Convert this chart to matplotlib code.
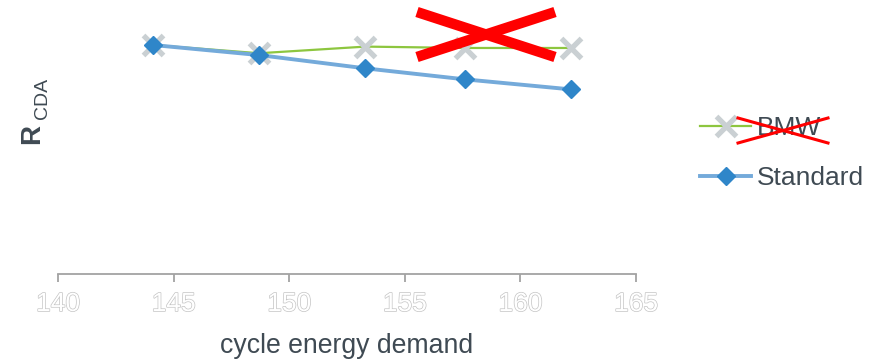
import matplotlib
matplotlib.use("Agg")
import matplotlib.pyplot as plt
import matplotlib.patheffects as pe
from matplotlib.lines import Line2D

plt.rcParams['font.family'] = ['Liberation Sans', 'DejaVu Sans']

# cycle energy demand for each measured configuration
energy = [144.1, 148.7, 153.3, 157.6, 162.2]
bmw_r = [1.000, 0.964, 0.993, 0.987, 0.987]
standard_r = [1.000, 0.956, 0.898, 0.850, 0.806]
xticks = [140, 145, 150, 155, 160, 165]
series_names = ["BMW", "Standard"]

text_color = "#3F4A53"
axis_color = "#A3A3A3"

fig = plt.figure(figsize=(8.84, 3.64), dpi=100)
ax = fig.add_axes([58 / 884, 1 - 274 / 364, (636 - 58) / 884, (274 - 9.5) / 364])

ax.plot(energy, bmw_r, color="#8DC63F", lw=1.6, marker="x", markersize=15,
        markeredgewidth=3.8, markeredgecolor="#CAD0D3", label=series_names[0], zorder=3)
ax.plot(energy, standard_r, color="#74AADA", lw=2.8, marker="D", markersize=9.5,
        markerfacecolor="#2F86C9", markeredgecolor="#2F86C9", label=series_names[1], zorder=4)

ax.set_xlim(140, 165)
ax.set_ylim(0, 1.155)
ax.set_xticks(xticks)
ax.set_yticks([])
for side in ("top", "right", "left"):
    ax.spines[side].set_visible(False)
ax.spines["bottom"].set_color(axis_color)
ax.spines["bottom"].set_linewidth(1.3)
ax.tick_params(axis="x", direction="out", length=6, width=1.3, color=axis_color,
               pad=7, labelsize=19, labelcolor="white")
for lbl in ax.get_xticklabels():
    lbl.set_path_effects([pe.Stroke(linewidth=1.0, foreground="#C4C4C4"), pe.Normal()])

ax.set_xlabel("cycle energy demand", fontsize=19.2, color=text_color, labelpad=12)

# rotated axis title with subscript
fig.text(32 / 884, 1 - 134 / 364, "R", rotation=90, ha="center", va="center",
         fontsize=20, fontweight="bold", color=text_color)
fig.text(42 / 884, 1 - 98 / 364, "CDA", rotation=90, ha="center", va="center",
         fontsize=14, color=text_color)

leg = ax.legend(loc="center left", bbox_to_anchor=(700 / 884, 1 - 153 / 364),
                bbox_transform=fig.transFigure, frameon=False, fontsize=19,
                handlelength=1.95, handletextpad=0.2, labelspacing=0.98,
                borderpad=0, borderaxespad=0)
for t in leg.get_texts():
    t.set_color(text_color)

# strike-through crosses
red = "#FF0000"
fig.add_artist(Line2D([417 / 884, 555 / 884], [1 - 12 / 364, 1 - 57 / 364],
                      transform=fig.transFigure, color=red, lw=7.5, solid_capstyle="butt", zorder=10))
fig.add_artist(Line2D([417 / 884, 555 / 884], [1 - 57 / 364, 1 - 12 / 364],
                      transform=fig.transFigure, color=red, lw=7.5, solid_capstyle="butt", zorder=10))
fig.add_artist(Line2D([738 / 884, 828 / 884], [1 - 118 / 364, 1 - 143 / 364],
                      transform=fig.transFigure, color=red, lw=2.2, zorder=10))
fig.add_artist(Line2D([738 / 884, 828 / 884], [1 - 143 / 364, 1 - 118 / 364],
                      transform=fig.transFigure, color=red, lw=2.2, zorder=10))

fig.savefig("out.png", dpi=100)
